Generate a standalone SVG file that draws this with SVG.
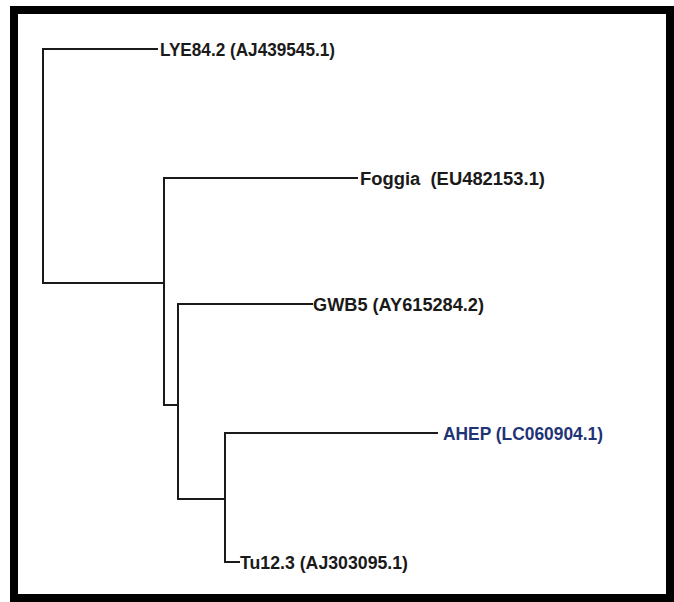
<svg xmlns="http://www.w3.org/2000/svg" width="674" height="602" viewBox="0 0 674 602">
<style>
.br{fill:none;stroke:#1a1a1a;stroke-width:2;stroke-linecap:square}
.lb{font-family:"Liberation Sans",Arial,sans-serif;font-weight:bold;font-size:18px;fill:#1a1a1a}
.hl{fill:#1f3377}
</style>
<rect width="674" height="602" fill="#ffffff"/>
<rect id="frame" x="14" y="10" width="656" height="588" fill="none" stroke="#000" stroke-width="8"/>
<g id="connectors">
<path class="br" d="M157,49 H43 V283 H164"/>
<path class="br" d="M357,178 H164 V405 H178"/>
<path class="br" d="M312,304 H178 V499 H225"/>
<path class="br" d="M437,433 H225 V562 H239"/>
</g>
<g id="n-lye"><text class="lb" x="160" y="55.5" textLength="175" lengthAdjust="spacingAndGlyphs">LYE84.2 (AJ439545.1)</text></g>
<g id="n-foggia"><text class="lb" x="360" y="184.5" textLength="185" lengthAdjust="spacingAndGlyphs" xml:space="preserve">Foggia  (EU482153.1)</text></g>
<g id="n-gwb5"><text class="lb" x="313" y="310.5" textLength="171" lengthAdjust="spacingAndGlyphs">GWB5 (AY615284.2)</text></g>
<g id="n-ahep"><text class="lb hl" x="443" y="439.5" textLength="160" lengthAdjust="spacingAndGlyphs">AHEP (LC060904.1)</text></g>
<g id="n-tu"><text class="lb" x="240" y="568.5" textLength="168" lengthAdjust="spacingAndGlyphs">Tu12.3 (AJ303095.1)</text></g>
</svg>
